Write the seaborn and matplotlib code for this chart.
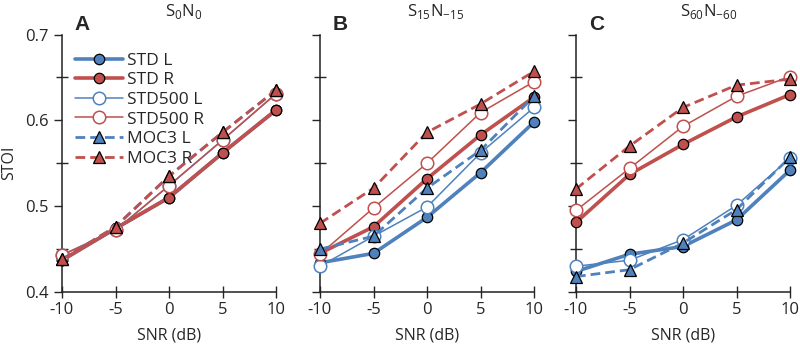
import numpy as np
import pandas as pd
import matplotlib
matplotlib.use('Agg')
import matplotlib.pyplot as plt
from matplotlib.ticker import MultipleLocator
import seaborn as sns

sns.set_style('ticks')
plt.rcParams['font.family'] = ['Open Sans', 'DejaVu Sans']
plt.rcParams['axes.unicode_minus'] = False

snr = [-10, -5, 0, 5, 10]

# S0N0 (L hidden under R)
a_std_l = [0.437, 0.474, 0.510, 0.562, 0.612]
a_std_r = [0.437, 0.474, 0.510, 0.562, 0.612]
a_s500_l = [0.443, 0.472, 0.524, 0.577, 0.631]
a_s500_r = [0.443, 0.472, 0.524, 0.577, 0.631]
a_moc_l = [0.438, 0.476, 0.535, 0.586, 0.635]
a_moc_r = [0.438, 0.476, 0.535, 0.586, 0.635]

# S15N-15
b_std_l = [0.434, 0.445, 0.487, 0.539, 0.598]
b_std_r = [0.445, 0.476, 0.532, 0.583, 0.627]
b_s500_l = [0.430, 0.465, 0.499, 0.562, 0.615]
b_s500_r = [0.444, 0.498, 0.550, 0.609, 0.645]
b_moc_l = [0.450, 0.465, 0.521, 0.565, 0.628]
b_moc_r = [0.480, 0.521, 0.586, 0.619, 0.657]

# S60N-60
c_std_l = [0.424, 0.444, 0.453, 0.484, 0.542]
c_std_r = [0.481, 0.537, 0.572, 0.604, 0.630]
c_s500_l = [0.430, 0.437, 0.461, 0.501, 0.556]
c_s500_r = [0.495, 0.544, 0.593, 0.628, 0.651]
c_moc_l = [0.418, 0.426, 0.457, 0.496, 0.557]
c_moc_r = [0.520, 0.570, 0.615, 0.641, 0.648]

labels = ['STD L', 'STD R', 'STD500 L', 'STD500 R', 'MOC3 L', 'MOC3 R']
titles = [r'S$_\mathregular{0}$N$_\mathregular{0}$',
          r'S$_\mathregular{15}$N$_\mathregular{-15}$',
          r'S$_\mathregular{60}$N$_\mathregular{-60}$']
letters = ['A', 'B', 'C']
yticks = [0.4, 0.5, 0.6, 0.7]
yticklabels = ['0.4', '0.5', '0.6', '0.7']

blue = '#4f81bd'
red = '#c0504d'

panels = [
    [a_std_l, a_std_r, a_s500_l, a_s500_r, a_moc_l, a_moc_r],
    [b_std_l, b_std_r, b_s500_l, b_s500_r, b_moc_l, b_moc_r],
    [c_std_l, c_std_r, c_s500_l, c_s500_r, c_moc_l, c_moc_r],
]

styles = [
    dict(color=blue, lw=2.6, ls='-', marker='o', ms=7.5, mfc=blue, mec='black', mew=0.9),
    dict(color=red, lw=2.6, ls='-', marker='o', ms=7.5, mfc=red, mec='black', mew=0.9),
    dict(color=blue, lw=1.1, ls='-', marker='o', ms=9, mfc='white', mec=blue, mew=1.1),
    dict(color=red, lw=1.1, ls='-', marker='o', ms=9, mfc='white', mec=red, mew=1.1),
    dict(color=blue, lw=2.0, ls=(0, (3.5, 1.8)), marker='^', ms=8, mfc=blue, mec='black', mew=0.9),
    dict(color=red, lw=2.0, ls=(0, (3.5, 1.8)), marker='^', ms=8, mfc=red, mec='black', mew=0.9),
]

fig = plt.figure(figsize=(8, 3.52), dpi=100)
lefts = [62, 320, 576]
title_x = [0.57, 0.54, 0.62]
axes = []
for i in range(3):
    ax = fig.add_axes([lefts[i] / 800, 1 - 292 / 352, 214 / 800, (292 - 34.5) / 352])
    axes.append(ax)
    for vals, st, lab in zip(panels[i], styles, labels):
        df = pd.DataFrame({'SNR': snr, 'STOI': vals})
        sns.lineplot(data=df, x='SNR', y='STOI', ax=ax, label=lab, legend=False,
                     clip_on=False, zorder=3, **st)
    ax.set_xlim(-10, 10)
    ax.set_ylim(0.4, 0.7)
    ax.set_xticks(snr)
    ax.set_yticks(yticks)
    ax.yaxis.set_minor_locator(MultipleLocator(0.05))
    ax.tick_params(axis='x', direction='inout', length=8, width=1, labelsize=12, pad=3)
    ax.tick_params(axis='y', which='major', direction='out', length=6, width=1, labelsize=12)
    ax.tick_params(axis='y', which='minor', direction='inout', length=8, width=1)
    for s in ['top', 'right']:
        ax.spines[s].set_visible(False)
    for s in ['left', 'bottom']:
        ax.spines[s].set_linewidth(1.1)
        ax.spines[s].set_color('#222222')
    ax.set_xlabel('SNR (dB)', fontsize=11.5, labelpad=7)
    if i == 0:
        ax.set_ylabel('STOI', fontsize=11.5, labelpad=6)
        ax.set_yticklabels(yticklabels)
    else:
        ax.set_ylabel('')
        ax.set_yticklabels([])
    ax.text(title_x[i], 1.09, titles[i], transform=ax.transAxes, ha='center', va='center',
            fontsize=12)
    ax.text(0.06, 1.0, letters[i], transform=ax.transAxes, ha='left', va='bottom',
            fontsize=15, fontweight='bold', family='Liberation Sans')

handles = axes[0].get_lines()[:6]
axes[0].legend(handles=handles, labels=labels, loc='upper left', bbox_to_anchor=(0.06, 0.93),
               frameon=False, fontsize=12.5, handlelength=2.75, handletextpad=0.25,
               labelspacing=0.2, borderpad=0, borderaxespad=0)

fig.savefig('out.png', dpi=100)
